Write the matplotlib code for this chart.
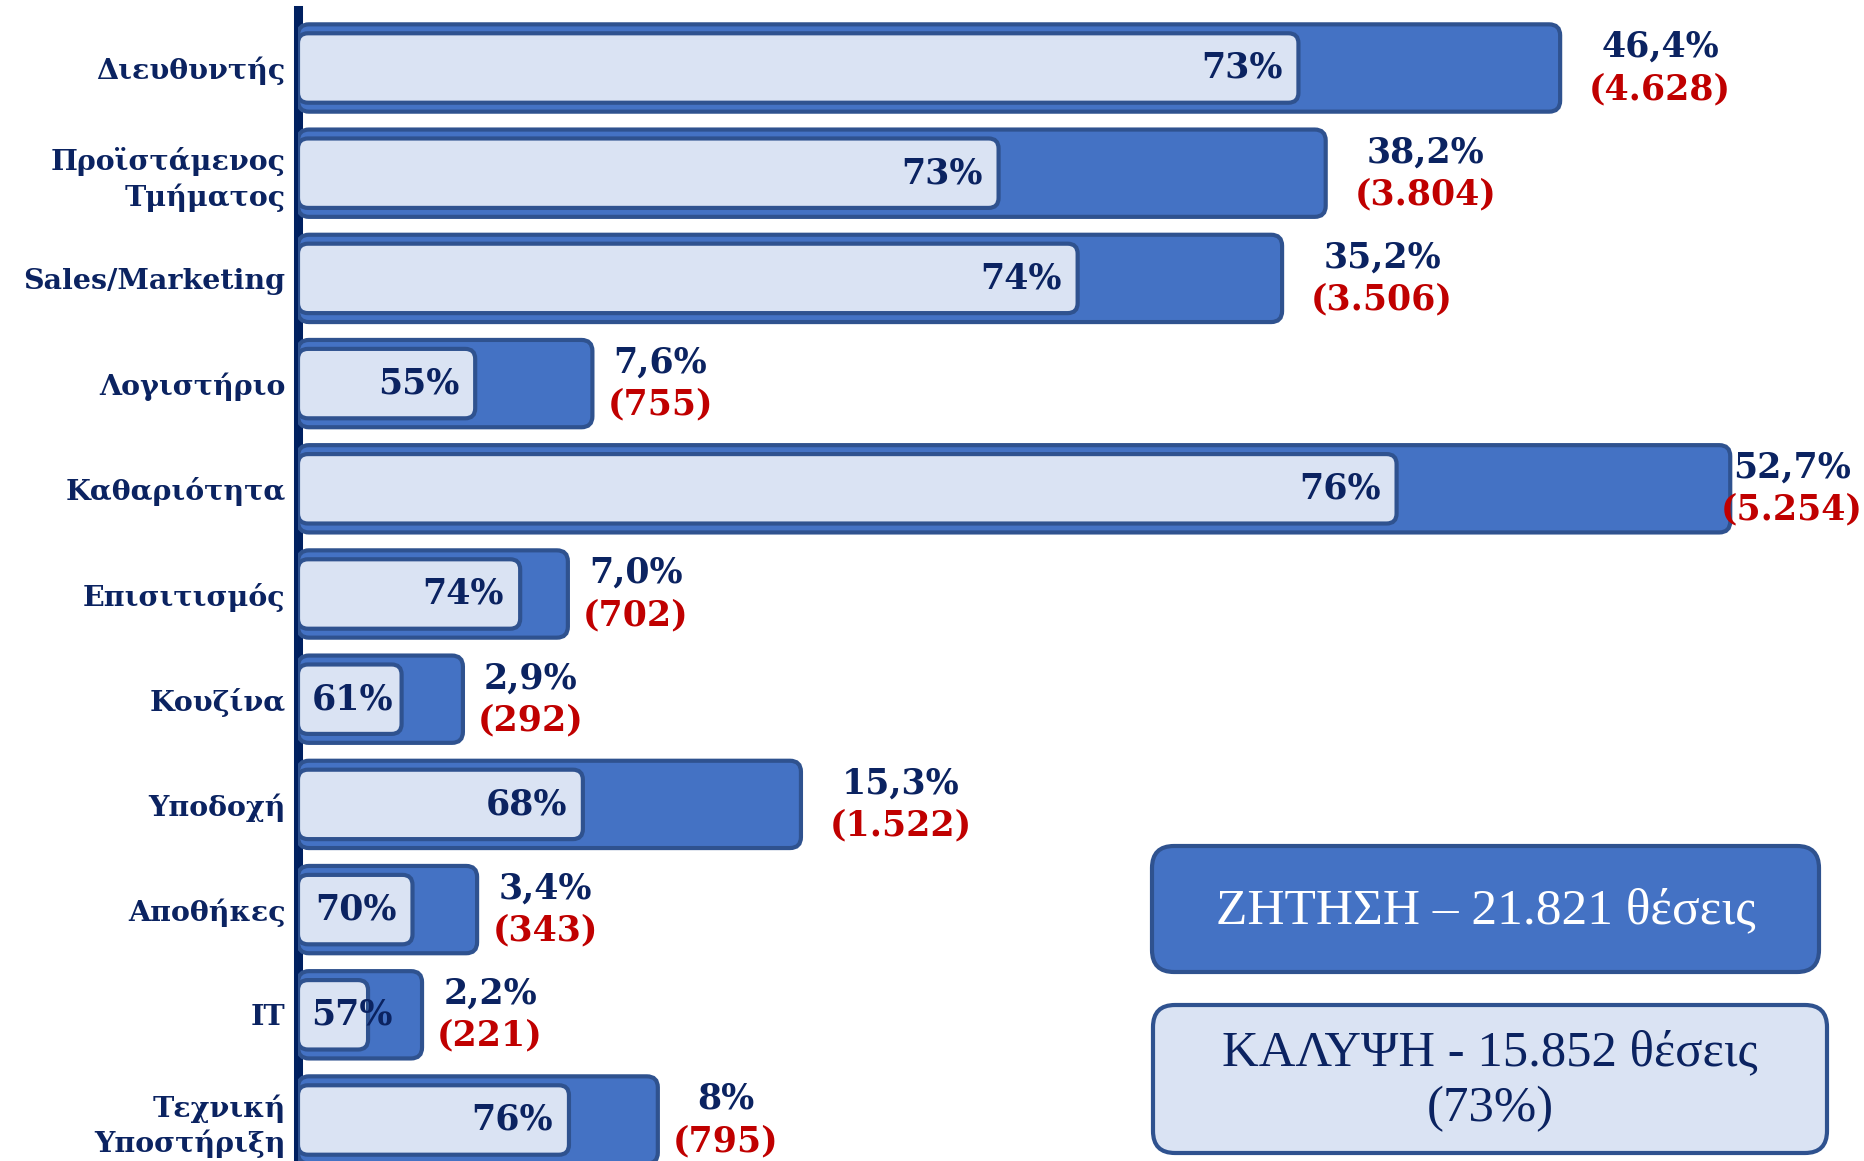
import matplotlib.pyplot as plt
from matplotlib.patches import FancyBboxPatch

# data
categories = ['Διευθυντής', 'Προϊστάμενος\nΤμήματος', 'Sales/Marketing', 'Λογιστήριο',
              'Καθαριότητα', 'Επισιτισμός', 'Κουζίνα', 'Υποδοχή', 'Αποθήκες', 'IT',
              'Τεχνική\nΥποστήριξη']
demand_share = ['46,4%', '38,2%', '35,2%', '7,6%', '52,7%', '7,0%', '2,9%', '15,3%', '3,4%', '2,2%', '8%']
demand_count = ['(4.628)', '(3.804)', '(3.506)', '(755)', '(5.254)', '(702)', '(292)',
                '(1.522)', '(343)', '(221)', '(795)']
coverage = ['73%', '73%', '74%', '55%', '76%', '74%', '61%', '68%', '70%', '57%', '76%']
# bar lengths as drawn on the slide (same unit as the demand counts)
bar_demand = [4630, 3770, 3610, 1080, 5254, 990, 605, 1845, 657, 455, 1320]
bar_cover = [3670, 2570, 2860, 650, 4030, 815, 380, 1045, 420, 257, 994]

demand_title = 'ΖΗΤΗΣΗ – 21.821 θέσεις'
cover_title = 'ΚΑΛΥΨΗ - 15.852 θέσεις\n(73%)'

navy = '#0B2361'
red = '#C00000'
blue = '#4472C4'
light = '#DAE3F3'
edge = '#2F528F'

W, H = 1864, 1161
fig = plt.figure(figsize=(W / 100, H / 100), dpi=100)
ax = fig.add_axes([298 / W, 0, 1 - 298 / W, 1])

px_x = 0.2726      # pixels per unit
px_row = 105.2     # pixels per row
top = 68           # centre of first row, px from top
ax.set_xlim(0, (W - 298) / px_x)
ax.set_ylim((H - top) / px_row, -top / px_row)
ux = 1 / px_x      # data units per pixel
uy = 1 / px_row
aspect = uy / ux

rows = list(range(len(categories)))


def rounded(bars, fc, radius):
    for r in bars:
        x, y = r.get_xy()
        ax.add_patch(FancyBboxPatch((x, y), r.get_width(), r.get_height(),
                                    boxstyle=f'round,pad=0,rounding_size={radius * ux}',
                                    mutation_aspect=aspect, fc=fc, ec=edge, lw=3, zorder=3))
        r.set_visible(False)


outer = ax.barh(rows, bar_demand, height=0.83)
rounded(outer, blue, 11)
inner = ax.barh(rows, bar_cover, height=0.66)
rounded(inner, light, 10)

font = 'DejaVu Serif'
for i in rows:
    # labels right of the demand bar
    off = (16 * len(demand_count[i]) - 12) * ux
    xc = min(bar_demand[i] + off, (W - 298 - 72) * ux)
    ax.text(xc, i - 0.2, demand_share[i], ha='center', va='center', color=navy,
            fontsize=25, fontweight='bold', family=font, zorder=4)
    ax.text(xc, i + 0.2, demand_count[i], ha='center', va='center', color=red,
            fontsize=25, fontweight='bold', family=font, zorder=4)
    # coverage % inside the light bar
    xr = max(bar_cover[i] - 16 * ux, 95 * ux)
    ax.text(xr, i, coverage[i], ha='right', va='center', color=navy,
            fontsize=25, fontweight='bold', family=font, zorder=4)

ax.set_yticks(rows, labels=categories)
for t in ax.get_yticklabels():
    t.set_fontsize(20.5)
    t.set_fontweight('bold')
    t.set_family(font)
    t.set_color(navy)
    t.set_linespacing(1.3)
ax.tick_params(axis='y', length=0, pad=9)
ax.set_xticks([])
for s in ['top', 'right', 'bottom']:
    ax.spines[s].set_visible(False)
ax.spines['left'].set_linewidth(6.5)
ax.spines['left'].set_color('#002060')
ax.spines['left'].set_bounds((H - top) / px_row, (10 - top) / px_row)
ax.patch.set_visible(False)

# legend boxes (pixel coordinates of the slide)
lax = fig.add_axes([0, 0, 1, 1])
lax.set_xlim(0, W)
lax.set_ylim(H, 0)
lax.axis('off')
lax.add_patch(FancyBboxPatch((1152, 846), 667, 126, boxstyle='round,pad=0,rounding_size=22',
                             fc=blue, ec=edge, lw=3))
lax.add_patch(FancyBboxPatch((1153, 1005), 674, 148, boxstyle='round,pad=0,rounding_size=22',
                             fc=light, ec=edge, lw=3))
lax.text(1486, 911, demand_title, ha='center', va='center', color='white',
         fontsize=37, family='Liberation Serif')
lax.text(1490, 1081, cover_title, ha='center', va='center', color=navy,
         fontsize=36.5, family='Liberation Serif', linespacing=1.25)

fig.savefig('out.png', dpi=100)
